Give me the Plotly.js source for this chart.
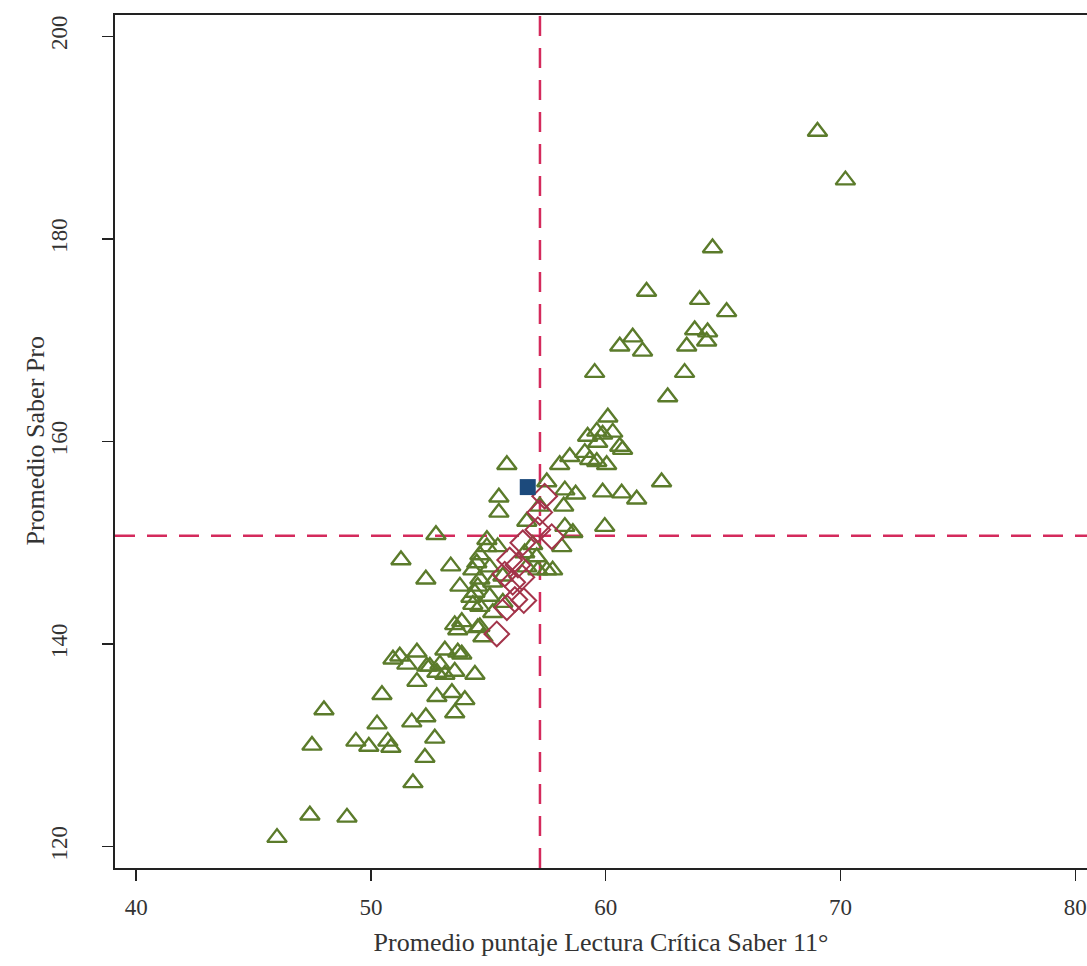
<!DOCTYPE html>
<html>
<head>
<meta charset="utf-8">
<script src="https://cdn.plot.ly/plotly-3.0.1.min.js"></script>
<style>html,body{margin:0;padding:0;background:#fff;}#chart{width:1087px;height:966px;}</style>
</head>
<body>
<div id="chart"></div>
<script>
// Green triangles: other programs
const triX = [46.00,47.40,48.98,47.49,48.00,49.36,49.91,50.26,50.72,50.85,50.47,51.79,52.30,51.74,52.34,52.72,50.94,51.23,51.53,51.96,51.96,52.38,52.81,52.94,53.15,52.81,53.45,53.57,53.15,52.51,53.70,53.57,53.70,54.55,54.34,53.57,54.43,54.00,53.87,53.87,54.77,
51.28,52.34,53.40,52.77,54.34,53.79,54.64,54.94,54.26,54.55,54.94,55.40,54.51,55.06,54.64,55.19,55.62,54.43,55.06,55.62,54.64,55.19,54.64,
55.79,55.45,55.45,57.49,57.19,56.64,58.26,58.72,58.21,58.04,58.47,57.49,57.74,57.11,56.64,58.13,58.26,58.60,56.55,57.06,56.89,
59.23,59.62,60.09,59.87,60.30,59.66,60.60,59.11,59.32,59.62,60.04,60.72,62.38,59.87,60.68,61.32,59.96,
59.53,60.60,61.15,61.57,61.74,62.64,63.36,63.45,63.79,64.34,64.30,64.00,65.15,64.55,69.02,70.21];
const triY = [120.9,123.1,122.9,130.0,133.5,130.4,129.9,132.1,130.4,129.8,135.0,126.3,128.8,132.3,132.8,130.7,138.5,138.8,138.0,136.3,139.2,137.8,137.2,138.0,137.0,134.8,135.2,133.2,139.4,137.8,139.2,141.9,141.4,141.6,143.9,137.3,137.0,134.5,139.0,142.2,140.7,
148.3,146.4,147.7,150.8,147.3,145.7,148.8,149.6,144.6,145.7,150.3,149.6,148.0,147.6,146.4,146.1,146.7,145.1,144.7,144.1,143.7,143.1,141.7,
157.7,154.5,153.0,156.0,153.6,152.1,155.2,154.8,153.6,157.7,158.5,147.3,147.3,147.3,147.6,149.6,151.6,151.0,149.0,148.6,149.8,
160.5,161.0,162.4,160.7,160.9,159.9,159.5,158.9,158.2,158.0,157.7,159.2,156.0,155.0,154.9,154.3,151.6,
166.8,169.4,170.3,168.9,174.8,164.4,166.8,169.4,171.0,170.8,169.9,174.0,172.8,179.1,190.6,185.8];

// Red diamonds
const diaX = [55.36,55.79,56.13,56.51,56.04,56.43,55.70,56.26,55.91,56.47,57.11,57.70,57.40,57.19];
const diaY = [141.0,143.6,144.4,144.3,146.1,146.6,146.9,147.8,148.3,150.0,151.3,150.6,154.6,153.0];

// Blue square
const sqX = [56.68];
const sqY = [155.5];

// Reference (mean) lines
const refX = 57.2;
const refY = 150.7;

const xTicks = [40,50,60,70,80];
const yTicks = [120,140,160,180,200];

const serif = "Liberation Serif, DejaVu Serif, serif";

const traces = [
  {x: triX, y: triY, type: 'scatter', mode: 'markers',
   marker: {symbol: 'triangle-up-open', size: 17, color: '#5b7b2b', line: {width: 2.4, color: '#5b7b2b'}},
   hoverinfo: 'x+y'},
  {x: diaX, y: diaY, type: 'scatter', mode: 'markers',
   marker: {symbol: 'diamond-open', size: 19, color: '#a3344a', line: {width: 2, color: '#a3344a'}},
   hoverinfo: 'x+y'},
  {x: sqX, y: sqY, type: 'scatter', mode: 'markers',
   marker: {symbol: 'square', size: 16, color: '#1c4a7c', line: {width: 0}},
   hoverinfo: 'x+y'}
];

const layout = {
  width: 1087, height: 966,
  margin: {l: 115, r: 0, t: 15, b: 98},
  paper_bgcolor: '#ffffff', plot_bgcolor: '#ffffff',
  showlegend: false,
  font: {family: serif, color: '#333333', size: 23},
  xaxis: {
    range: [39.1, 80.5], tickvals: xTicks, ticktext: xTicks.map(String),
    showgrid: false, zeroline: false,
    showline: true, linecolor: '#222222', linewidth: 2, mirror: true,
    ticks: 'outside', ticklen: 11, tickwidth: 1.5, tickcolor: '#222222',
    ticklabelstandoff: 6,
    tickfont: {family: serif, size: 23, color: '#333333'},
    title: {text: 'Promedio puntaje Lectura Crítica Saber 11°', font: {family: serif, size: 26, color: '#333333'}, standoff: 14}
  },
  yaxis: {
    range: [117.9, 202.1], tickvals: yTicks, ticktext: yTicks.map(String),
    showgrid: false, zeroline: false,
    showline: true, linecolor: '#222222', linewidth: 2, mirror: false,
    ticks: 'outside', ticklen: 11, tickwidth: 1.5, tickcolor: '#222222',
    tickangle: -90, ticklabelstandoff: 26,
    tickfont: {family: serif, size: 23, color: '#333333'}
  },
  annotations: [
    {text: 'Promedio Saber Pro', xref: 'paper', yref: 'paper', x: 0, y: 0.5,
     xanchor: 'center', yanchor: 'middle', xshift: -80, textangle: -90, showarrow: false,
     font: {family: serif, size: 26, color: '#333333'}}
  ],
  shapes: [
    {type: 'line', xref: 'x', yref: 'paper', x0: refX, x1: refX, y0: 0, y1: 1,
     line: {color: '#d42a5c', width: 2.5, dash: '20px,12px'}, layer: 'below'},
    {type: 'line', xref: 'paper', yref: 'y', x0: 0, x1: 1, y0: refY, y1: refY,
     line: {color: '#d42a5c', width: 2.5, dash: '20px,12px'}, layer: 'below'}
  ]
};

Plotly.newPlot('chart', traces, layout, {displayModeBar: false, staticPlot: true});
</script>
</body>
</html>
